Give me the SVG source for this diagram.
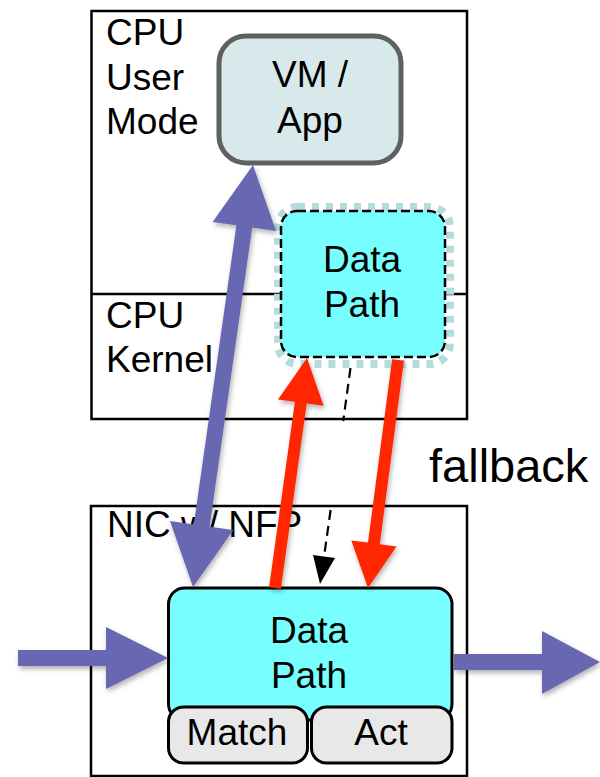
<svg xmlns="http://www.w3.org/2000/svg" width="600" height="777" viewBox="0 0 600 777">
  <defs>
    <style>
      .lbl { font-family: "Liberation Sans", Arial, Helvetica, sans-serif; font-size: 37px; fill: #000; }
      .mid { text-anchor: middle; }
      .zone { fill: #fff; stroke: #000; stroke-width: 2.5; }
      .dp { fill: #77ffff; stroke: #000; stroke-width: 3; }
      .tbl { fill: #e8e8e8; stroke: #000; stroke-width: 3; }
      .blue { fill: #6767b2; }
      .red { fill: #ff2600; }
      .dash { fill: none; stroke: #000; stroke-width: 2.2; stroke-dasharray: 10 6; }
    </style>
    <filter id="shadow" x="-20%" y="-20%" width="140%" height="140%">
      <feDropShadow dx="1.5" dy="3" stdDeviation="2.5" flood-color="#000" flood-opacity="0.3"/>
    </filter>
  </defs>

  <!-- host CPU: user mode above, kernel below -->
  <g id="cpu">
    <rect class="zone" x="91.5" y="11" width="375.5" height="408"/>
    <line x1="91.5" y1="294" x2="467" y2="294" stroke="#000" stroke-width="2.5"/>
    <text class="lbl" x="106" y="45">CPU</text>
    <text class="lbl" x="106" y="90">User</text>
    <text class="lbl" x="106" y="134">Mode</text>
    <text class="lbl" x="106" y="328">CPU</text>
    <text class="lbl" x="106" y="372">Kernel</text>
  </g>

  <g id="vm-app">
    <rect x="219" y="36" width="182" height="127" rx="27" fill="#d7e9ea" stroke="#606060" stroke-width="5"/>
    <text class="lbl mid" x="310" y="87">VM /</text>
    <text class="lbl mid" x="310" y="133">App</text>
  </g>

  <g id="kernel-datapath">
    <rect x="278" y="207" width="172" height="157" rx="20" fill="none" stroke="#b3dcdd" stroke-width="8" stroke-dasharray="7 7"/>
    <rect x="281" y="211" width="164" height="146" rx="16" fill="#77ffff" stroke="#000" stroke-width="2.5" stroke-dasharray="9 4"/>
    <text class="lbl mid" x="362" y="272">Data</text>
    <text class="lbl mid" x="362" y="317">Path</text>
  </g>

  <g id="fallback-label">
    <text class="lbl" x="429" y="482" style="font-size:47px">fallback</text>
  </g>

  <!-- SmartNIC -->
  <g id="nic">
    <rect class="zone" x="91" y="506" width="376" height="270"/>
    <text class="lbl" x="107" y="537">NIC w/ NFP</text>
  </g>

  <g id="nic-datapath">
    <rect class="dp" x="168.5" y="588" width="283.5" height="132" rx="16"/>
    <text class="lbl mid" x="309" y="643">Data</text>
    <text class="lbl mid" x="309" y="688">Path</text>
  </g>

  <g id="match">
    <rect class="tbl" x="168.5" y="707" width="139" height="56" rx="15"/>
    <text class="lbl mid" x="237" y="745">Match</text>
  </g>

  <g id="act">
    <rect class="tbl" x="311.5" y="707" width="140.5" height="56" rx="15"/>
    <text class="lbl mid" x="381" y="745">Act</text>
  </g>

  <!-- connectors -->
  <g id="connectors">
    <!-- NIC datapath <-> VM / App -->
    <polygon class="blue" filter="url(#shadow)" points="253,165 276,230.9 252.2,227.5 209.6,526.7 233.4,530.1 193,587 170,521.1 193.8,524.5 236.4,225.3 212.6,221.9"/>
    <!-- upcall to kernel datapath -->
    <polygon class="red" filter="url(#shadow)" points="307,358 323.6,405.8 306.7,403.4 280.9,588.8 269.1,587.2 294.9,401.8 278,399.4"/>
    <!-- reinjection to NIC datapath -->
    <polygon class="red" filter="url(#shadow)" points="368,588 351.3,540.4 368,542.6 392.1,359.2 403.9,360.8 379.8,544.2 396.5,546.4"/>
    <!-- fallback path (dashed) -->
    <line class="dash" x1="350.5" y1="368" x2="343.2" y2="421"/>
    <line class="dash" x1="330.6" y1="510" x2="324" y2="557"/>
    <polygon fill="#000" points="320,584 313,555 335,558"/>
    <!-- traffic in / out -->
    <polygon class="blue" filter="url(#shadow)" points="18,650 106,650 106,627 168,658 106,689 106,666 18,666"/>
    <polygon class="blue" filter="url(#shadow)" points="454,654 542,654 542,631 600,662 542,694 542,670 454,670"/>
  </g>
</svg>
